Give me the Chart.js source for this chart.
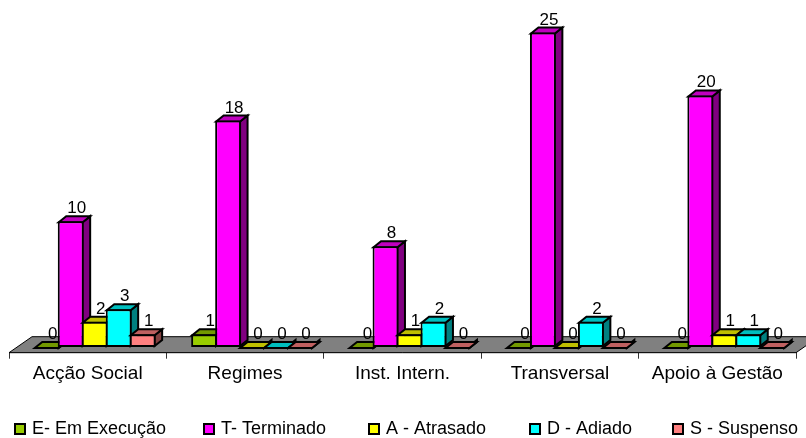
<!DOCTYPE html>
<html>
<head>
<meta charset="utf-8">
<style>
  html, body { margin: 0; padding: 0; background: #fff; overflow: hidden; }
  #wrap { width: 806px; height: 438px; }
</style>
<script src="https://cdn.jsdelivr.net/npm/chart.js@4"></script>
</head>
<body>
<div id="wrap"><canvas id="chart" width="806" height="438"></canvas></div>
<script>
const categories = ['Acção Social', 'Regimes', 'Inst. Intern.', 'Transversal', 'Apoio à Gestão'];
const emExecucao = [0, 1, 0, 0, 0];
const terminado = [10, 18, 8, 25, 20];
const atrasado = [2, 0, 1, 0, 1];
const adiado = [3, 0, 2, 2, 1];
const suspenso = [1, 0, 0, 0, 0];

const seriesNames = ['E- Em Execução', 'T- Terminado', 'A - Atrasado', 'D - Adiado', 'S - Suspenso'];
const seriesValues = [emExecucao, terminado, atrasado, adiado, suspenso];
const frontColors = ['#99CC00', '#FF00FF', '#FFFF00', '#00FFFF', '#FF8080'];
const topColors = ['#739900', '#BF00BF', '#BFBF00', '#00BFBF', '#BF6060'];
const sideColors = ['#4D6600', '#800080', '#808000', '#008080', '#804040'];

const FAMILY = '"Liberation Sans", Arial, sans-serif';
const DEPTH_X = 7.5;
const DEPTH_Y = 6;
const BAR_SHIFT = 7; // the box sits behind the axis, so the bars lean right of their label
const LEGEND_X = [15, 204, 369, 530, 673]; // the gaps are uneven, the built-in legend can't do that
const LEGEND_Y = 429;

function poly(ctx, pts, fill) {
    ctx.beginPath();
    pts.forEach((p, i) => i ? ctx.lineTo(p[0], p[1]) : ctx.moveTo(p[0], p[1]));
    ctx.closePath();
    if (fill) {
        ctx.fillStyle = fill;
        ctx.fill();
    }
    ctx.stroke();
}

const box3d = {
    id: 'box3d',
    afterDatasetsUpdate(chart) {
        chart.getSortedVisibleDatasetMetas().forEach(meta => {
            meta.data.forEach(el => { el.x += BAR_SHIFT; });
        });
    },
    // floor first, then the bars left to right so each one hides its neighbour's side
    beforeDatasetsDraw(chart) {
        const ctx = chart.ctx;
        const a = chart.chartArea;
        ctx.save();
        ctx.strokeStyle = '#000';
        ctx.lineWidth = 1;
        poly(ctx, [[a.left, a.bottom], [a.left + 23, a.bottom - 16], [a.right + 23, a.bottom - 16], [a.right, a.bottom]], '#808080');
        ctx.lineWidth = 2;
        ctx.lineJoin = 'miter';
        seriesNames.forEach((name, i) => {
            const meta = chart.getDatasetMeta(i);
            meta.data.forEach(el => {
                const l = el.x - el.width / 2 + 1;
                const r = el.x + el.width / 2 - 1;
                const t = el.y + 1;
                const b = el.base - 1;
                poly(ctx, [[r, t], [r + DEPTH_X, t - DEPTH_Y], [r + DEPTH_X, b - DEPTH_Y], [r, b]], sideColors[i]);
                poly(ctx, [[l, t], [l + DEPTH_X, t - DEPTH_Y], [r + DEPTH_X, t - DEPTH_Y], [r, t]], topColors[i]);
            });
            meta.controller.draw();
        });
        ctx.restore();
        return false;
    },
    // value labels and legend
    afterDraw(chart) {
        const ctx = chart.ctx;
        ctx.save();
        ctx.font = '17px ' + FAMILY;
        ctx.fillStyle = '#000';
        ctx.textAlign = 'center';
        ctx.textBaseline = 'alphabetic';
        seriesValues.forEach((values, i) => {
            chart.getDatasetMeta(i).data.forEach((el, n) => {
                ctx.fillText(String(values[n]), el.x + 6, el.y - 8);
            });
        });

        ctx.font = '18px ' + FAMILY;
        ctx.textAlign = 'left';
        ctx.textBaseline = 'middle';
        ctx.strokeStyle = '#000';
        ctx.lineWidth = 2;
        seriesNames.forEach((name, i) => {
            ctx.fillStyle = frontColors[i];
            ctx.fillRect(LEGEND_X[i], LEGEND_Y - 5, 10, 10);
            ctx.strokeRect(LEGEND_X[i], LEGEND_Y - 5, 10, 10);
            ctx.fillStyle = '#000';
            ctx.fillText(name, LEGEND_X[i] + 17, LEGEND_Y);
        });
        ctx.restore();
    }
};

const chart = new Chart(document.getElementById('chart').getContext('2d'), {
    type: 'bar',
    data: {
        labels: categories,
        datasets: seriesNames.map((name, i) => ({
            label: name,
            data: seriesValues[i],
            backgroundColor: frontColors[i],
            borderColor: '#000',
            borderWidth: 2,
            borderSkipped: false,
            categoryPercentage: 0.7622,
            barPercentage: 1.08
        }))
    },
    options: {
        responsive: false,
        animation: false,
        layout: { padding: { left: 9, right: 10, top: 20, bottom: 48.5 } },
        scales: {
            x: {
                grid: { drawOnChartArea: false, tickLength: 6, tickColor: '#333', tickWidth: 1 },
                border: { display: true, color: '#000', width: 1 },
                ticks: { font: { family: FAMILY, size: 19 }, color: '#000', padding: 4, maxRotation: 0 }
            },
            y: {
                display: false,
                min: -0.46,
                max: 26
            }
        },
        plugins: {
            tooltip: { enabled: false },
            legend: { display: false }
        }
    },
    plugins: [box3d]
});
</script>
</body>
</html>
